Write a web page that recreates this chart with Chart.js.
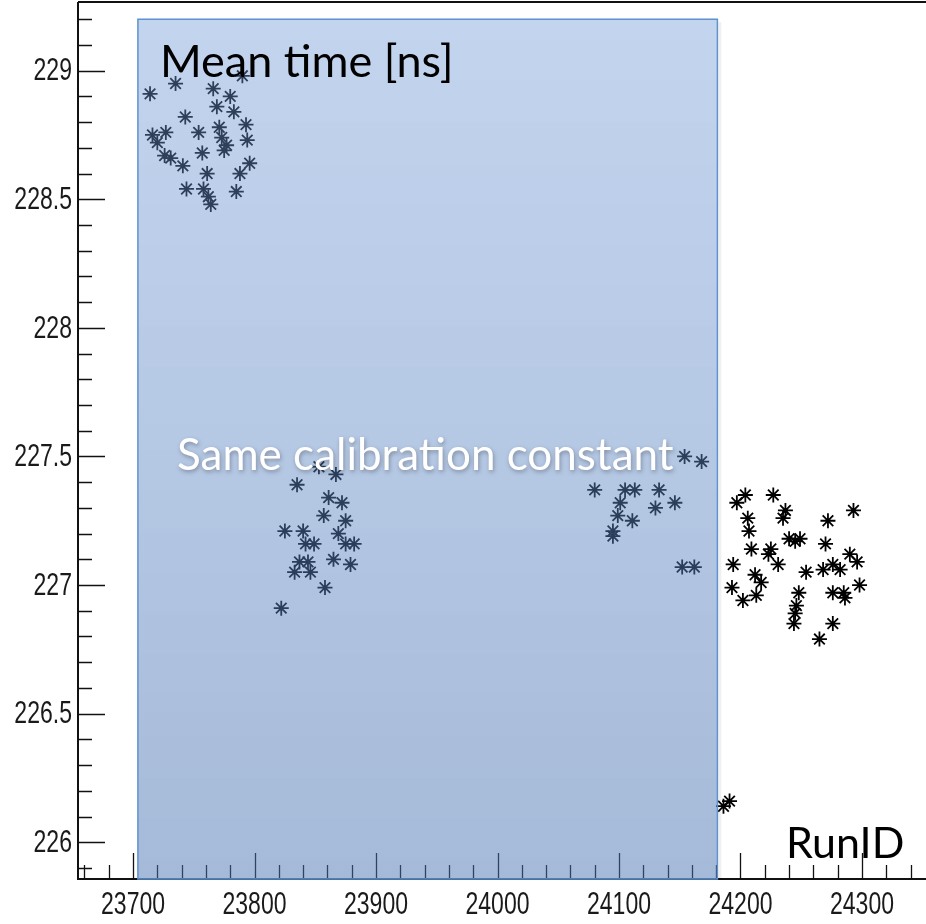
<!DOCTYPE html>
<html>
<head>
<meta charset="utf-8">
<script src="https://cdn.jsdelivr.net/npm/chart.js@4.4.1/dist/chart.umd.min.js"></script>
<style>
  html, body { margin: 0; padding: 0; background: #fff; }
  #wrap { width: 926px; height: 924px; }
</style>
</head>
<body>
<div id="wrap"><canvas id="meanTimeChart" width="926" height="924"></canvas></div>
<script>
// run ids and mean times, grouped by cluster
const runsEarly = [23714, 23735, 23766, 23790, 23780, 23769, 23783, 23743, 23716, 23727,
                   23720, 23726, 23731, 23741, 23754, 23757, 23771, 23773, 23777, 23775,
                   23793, 23794, 23796, 23788, 23761, 23785, 23744, 23758, 23762, 23764];
const timesEarly = [228.91, 228.95, 228.93, 228.98, 228.90, 228.86, 228.84, 228.82, 228.75, 228.76,
                    228.72, 228.67, 228.66, 228.63, 228.76, 228.68, 228.78, 228.74, 228.71, 228.69,
                    228.79, 228.73, 228.64, 228.60, 228.60, 228.53, 228.54, 228.54, 228.51, 228.48];

const runsMid = [23853, 23867, 23835, 23861, 23872, 23857, 23875, 23825, 23840, 23842, 23849,
                 23869, 23875, 23882, 23837, 23844, 23865, 23879, 23833, 23846, 23858, 23822];
const timesMid = [227.46, 227.43, 227.39, 227.34, 227.32, 227.27, 227.25, 227.21, 227.21, 227.16, 227.16,
                  227.20, 227.16, 227.16, 227.09, 227.09, 227.10, 227.08, 227.05, 227.05, 226.99, 226.91];

const runsLate = [24154, 24168, 24080, 24105, 24113, 24133, 24101, 24146, 24130, 24099,
                  24111, 24095, 24095, 24152, 24162];
const timesLate = [227.50, 227.48, 227.37, 227.37, 227.37, 227.37, 227.32, 227.32, 227.30, 227.27,
                   227.25, 227.21, 227.19, 227.07, 227.07];

const runsNew = [24197, 24204, 24227, 24237, 24235, 24206, 24207, 24272, 24293, 24240,
                 24249, 24245, 24270, 24209, 24225, 24223, 24231, 24290, 24296, 24276,
                 24282, 24194, 24254, 24268, 24212, 24217, 24298, 24193, 24213, 24202,
                 24248, 24276, 24285, 24286, 24246, 24245, 24244, 24276, 24265];
const timesNew = [227.32, 227.35, 227.35, 227.29, 227.26, 227.26, 227.21, 227.25, 227.29, 227.18,
                  227.18, 227.17, 227.16, 227.14, 227.14, 227.12, 227.08, 227.12, 227.09, 227.08,
                  227.06, 227.08, 227.05, 227.06, 227.04, 227.01, 227.00, 226.99, 226.96, 226.94,
                  226.97, 226.97, 226.97, 226.95, 226.92, 226.89, 226.85, 226.85, 226.79];

const runsDip = [24186, 24191];
const timesDip = [226.14, 226.16];

// x / y tick labels
const xTickValues = [23700, 23800, 23900, 24000, 24100, 24200, 24300];
const yTickValues = [226, 226.5, 227, 227.5, 228, 228.5, 229];

// range that shares one calibration constant
const calibFrom = 23704;
const calibTo = 24181;
const calibTop = 229.2;

const toPoints = (xs, ys) => xs.map((x, i) => ({ x: x, y: ys[i] }));

const labelFont = "32px 'Liberation Sans', Arial, sans-serif";
const squeeze = 0.72; // ROOT labels are tall and narrow
const noteFont = "Lato, 'Open Sans', sans-serif";

// ROOT style ticks drawn inside the frame, the frame lines and the tick labels
const frameTicks = {
  id: 'frameTicks',
  afterDatasetsDraw(chart) {
    const { ctx, chartArea: a, scales: { x, y } } = chart;
    ctx.save();
    ctx.strokeStyle = '#111';
    ctx.lineWidth = 1.3;
    ctx.beginPath();
    for (let v = 225.9; v <= 229.25; v += 0.1) {
      const py = Math.round(y.getPixelForValue(v)) + 0.5;
      const major = Math.abs(v * 2 - Math.round(v * 2)) < 1e-6;
      ctx.moveTo(a.left, py);
      ctx.lineTo(a.left + (major ? 27 : 14), py);
    }
    for (let v = 23660; v <= 24350; v += 20) {
      const px = Math.round(x.getPixelForValue(v)) + 0.5;
      const major = v % 100 === 0;
      ctx.moveTo(px, a.bottom);
      ctx.lineTo(px, a.bottom - (major ? 26 : 14));
    }
    ctx.stroke();
    ctx.lineWidth = 2;
    ctx.beginPath();
    ctx.moveTo(a.left, a.top);
    ctx.lineTo(a.right, a.top);
    ctx.moveTo(a.left, a.top);
    ctx.lineTo(a.left, a.bottom);
    ctx.lineTo(a.right, a.bottom);
    ctx.stroke();

    ctx.fillStyle = '#1a1a1a';
    ctx.font = labelFont;
    ctx.textBaseline = 'middle';
    y.ticks.forEach(t => {
      const py = y.getPixelForValue(t.value);
      ctx.save();
      ctx.translate(a.left - 6, py + 1);
      ctx.scale(squeeze, 1);
      ctx.textAlign = 'right';
      ctx.fillText(String(t.value), 0, 0);
      ctx.restore();
    });
    x.ticks.forEach(t => {
      const px = x.getPixelForValue(t.value);
      ctx.save();
      ctx.translate(px, 905);
      ctx.scale(squeeze, 1);
      ctx.textAlign = 'center';
      ctx.fillText(String(t.value), 0, 0);
      ctx.restore();
    });
    ctx.restore();
  }
};

// translucent box over the calibration period, then the slide texts
const calibBox = {
  id: 'calibBox',
  afterDraw(chart) {
    const { ctx, chartArea: a, scales: { x, y } } = chart;
    const l = x.getPixelForValue(calibFrom);
    const r = x.getPixelForValue(calibTo);
    const t = y.getPixelForValue(calibTop);
    const b = a.bottom;
    ctx.save();
    const g = ctx.createLinearGradient(0, t, 0, b);
    g.addColorStop(0, 'rgba(112, 152, 214, 0.42)');
    g.addColorStop(1, 'rgba(76, 118, 178, 0.50)');
    ctx.fillStyle = g;
    ctx.fillRect(l, t, r - l, b - t);
    ctx.strokeStyle = '#5e93d0';
    ctx.lineWidth = 1.5;
    ctx.strokeRect(l, t, r - l, b - t);
    // faint shadow on the right edge
    ctx.fillStyle = 'rgba(0,0,0,0.06)';
    ctx.fillRect(r + 1, t + 3, 3, b - t - 3);

    ctx.fillStyle = '#000';
    ctx.textBaseline = 'alphabetic';
    ctx.font = '45px ' + noteFont;
    ctx.fillText('Mean time [ns]', 160, 77);
    ctx.font = '43px ' + noteFont;
    ctx.fillText('RunID', 786, 858);

    ctx.shadowColor = 'rgba(0,0,0,0.3)';
    ctx.shadowBlur = 4;
    ctx.shadowOffsetX = 1;
    ctx.shadowOffsetY = 2;
    ctx.fillStyle = '#fff';
    ctx.font = '44px ' + noteFont;
    ctx.fillText('Same calibration constant', 177, 470);
    ctx.restore();
  }
};

const marker = {
  pointStyle: 'star',
  pointRadius: 7.5,
  pointBorderWidth: 1.8,
  borderColor: '#000',
  backgroundColor: '#000',
  showLine: false
};

new Chart(document.getElementById('meanTimeChart'), {
  type: 'scatter',
  data: {
    datasets: [
      { label: 'early', data: toPoints(runsEarly, timesEarly), ...marker },
      { label: 'mid', data: toPoints(runsMid, timesMid), ...marker },
      { label: 'late', data: toPoints(runsLate, timesLate), ...marker },
      { label: 'new', data: toPoints(runsNew, timesNew), ...marker },
      { label: 'dip', data: toPoints(runsDip, timesDip), ...marker }
    ]
  },
  options: {
    responsive: false,
    animation: false,
    layout: { autoPadding: false, padding: { top: 2, right: 0, left: 0, bottom: 0 } },
    plugins: { legend: { display: false }, tooltip: { enabled: false } },
    scales: {
      x: {
        type: 'linear',
        min: 23654.7,
        max: 24352.7,
        grid: { display: false, drawTicks: false },
        border: { display: false },
        afterFit(s) { s.height = 45; s.paddingLeft = 0; s.paddingRight = 0; },
        afterBuildTicks(s) { s.ticks = xTickValues.map(v => ({ value: v })); },
        ticks: { display: false }
      },
      y: {
        type: 'linear',
        min: 225.857,
        max: 229.267,
        grid: { display: false, drawTicks: false },
        border: { display: false },
        afterFit(s) { s.width = 78; s.paddingTop = 0; s.paddingBottom = 0; },
        afterBuildTicks(s) { s.ticks = yTickValues.map(v => ({ value: v })); },
        ticks: { display: false }
      }
    }
  },
  plugins: [frameTicks, calibBox]
});
</script>
</body>
</html>
